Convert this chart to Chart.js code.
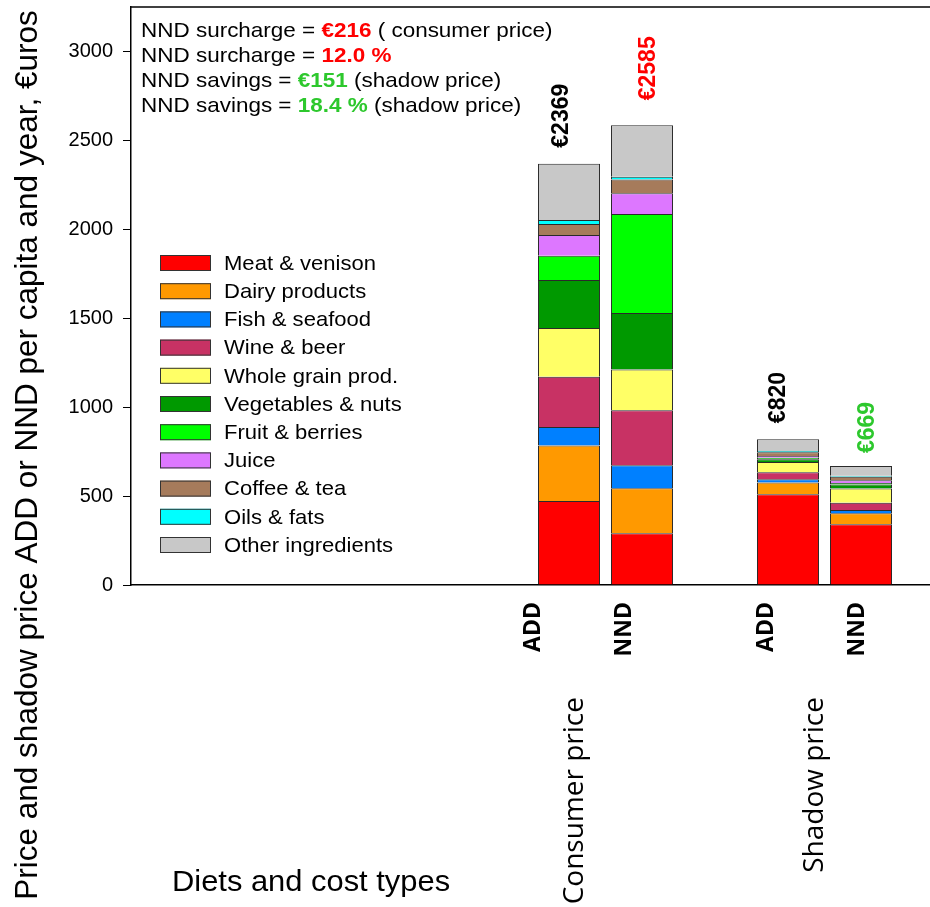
<!DOCTYPE html>
<html><head><meta charset="utf-8">
<script src="https://cdn.jsdelivr.net/npm/chart.js@4.4.1/dist/chart.umd.min.js"></script>
<style>html,body{margin:0;padding:0;background:#fff;overflow:hidden;width:930px;height:907px;}</style>
</head><body>
<canvas id="c" width="934" height="907"></canvas>
<script>
// ---- data ----
const xLabels = ['', '', '', '', '', '', 'ADD', 'NND', '', 'ADD', 'NND', ''];
const groupLabels = ['Consumer price', 'Shadow price'];
const seriesNames = ['Meat & venison', 'Dairy products', 'Fish & seafood', 'Wine & beer', 'Whole grain prod.', 'Vegetables & nuts', 'Fruit & berries', 'Juice', 'Coffee & tea', 'Oils & fats', 'Other ingredients'];
const meat   = [null, null, null, null, null, null, 473, 291, null, 510, 342, null];
const dairy  = [null, null, null, null, null, null, 311, 253, null, 66, 61, null];
const fish   = [null, null, null, null, null, null, 105, 130, null, 19, 19, null];
const wine   = [null, null, null, null, null, null, 282, 309, null, 39, 41, null];
const grain  = [null, null, null, null, null, null, 274, 229, null, 57, 79, null];
const veg    = [null, null, null, null, null, null, 270, 317, null, 16, 23, null];
const fruit  = [null, null, null, null, null, null, 137, 557, null, 8, 9, null];
const juice  = [null, null, null, null, null, null, 116, 117, null, 11, 15, null];
const coffee = [null, null, null, null, null, null, 62, 77, null, 21, 19, null];
const oils   = [null, null, null, null, null, null, 23, 16, null, 7, 6, null];
const other  = [null, null, null, null, null, null, 316, 289, null, 66, 55, null];
const yTicks = [0, 500, 1000, 1500, 2000, 2500, 3000];
const notes = [
  [['NND surcharge = ', 0], ['€216', 1], [' ( consumer price)', 0]],
  [['NND surcharge = ', 0], ['12.0 %', 1]],
  [['NND savings = ', 0], ['€151', 2], [' (shadow price)', 0]],
  [['NND savings = ', 0], ['18.4 %', 2], [' (shadow price)', 0]]
];

// ---- styles ----
const colors = ['#FF0000', '#FF9900', '#0080FF', '#C83264', '#FFFF66', '#009900', '#00FF00', '#DD77FF', '#A67B5B', '#00FFFF', '#C8C8C8'];
const GREEN = '#2DC82D';
const ARIAL = '"Liberation Sans", Arial, sans-serif';
const CALIBRI = '"Open Sans", "Noto Sans", sans-serif';
const seriesData = [meat, dairy, fish, wine, grain, veg, fruit, juice, coffee, oils, other];

function wideText(ctx, t, x, y, sx) {
  ctx.save(); ctx.translate(x, y); ctx.scale(sx, 1); ctx.fillText(t, 0, 0); ctx.restore();
  return ctx.measureText(t).width * sx;
}

const decor = {
  id: 'decor',
  afterDraw(chart) {
    const ctx = chart.ctx, ca = chart.chartArea;
    const xs = chart.scales.x, ys = chart.scales.y;
    ctx.save();
    // top frame line
    ctx.strokeStyle = '#000'; ctx.lineWidth = 1.5;
    ctx.beginPath(); ctx.moveTo(ca.left, ca.top); ctx.lineTo(chart.width, ca.top); ctx.stroke();

    // totals above bars
    const totColors = {6: '#000', 7: '#FF0000', 9: '#000', 10: GREEN};
    const nudgeX = {6: -7, 7: 7, 9: -9, 10: 7};
    const gapY = {6: 16, 7: 25, 9: 16, 10: 13};
    ctx.font = 'bold 23px ' + ARIAL;
    ctx.textBaseline = 'middle'; ctx.textAlign = 'left';
    xLabels.forEach((lab, i) => {
      if (!lab) return;
      let sum = 0; seriesData.forEach(s => sum += (s[i] || 0));
      const x = xs.getPixelForValue(i) + nudgeX[i];
      const y = ys.getPixelForValue(sum) - gapY[i];
      ctx.save(); ctx.translate(x, y); ctx.rotate(-Math.PI / 2);
      ctx.fillStyle = totColors[i];
      ctx.fillText('€' + Math.round(sum), 0, 0);
      ctx.restore();
    });

    // notes at top-left
    const noteCols = ['#000', '#FF0000', GREEN];
    notes.forEach((line, r) => {
      let x = 141; const y = 31 + r * 25;
      ctx.textAlign = 'left'; ctx.textBaseline = 'middle';
      line.forEach(([t, c]) => {
        ctx.font = (c ? 'bold ' : '') + '21px ' + ARIAL;
        ctx.fillStyle = noteCols[c];
        x += wideText(ctx, t, x, y, 1.07);
      });
    });

    // legend
    ctx.font = '21px ' + ARIAL;
    seriesNames.forEach((n, i) => {
      const y = 263 + i * 28.2;
      ctx.fillStyle = colors[i];
      ctx.fillRect(160, y - 8, 51, 16);
      ctx.strokeStyle = '#333'; ctx.lineWidth = 1;
      ctx.strokeRect(160.5, y - 7.5, 50, 15);
      ctx.fillStyle = '#000'; ctx.textAlign = 'left'; ctx.textBaseline = 'middle';
      wideText(ctx, n, 224, y + 1, 1.05);
    });

    // x tick labels (rotated, bold)
    const labNudge = {6: -36, 7: -18, 9: -22, 10: -4};
    ctx.font = 'bold 23px ' + CALIBRI;
    ctx.fillStyle = '#000';
    xLabels.forEach((lab, i) => {
      if (!lab) return;
      const x = xs.getPixelForValue(i) + labNudge[i];
      ctx.save(); ctx.translate(x, 602); ctx.rotate(-Math.PI / 2);
      ctx.textAlign = 'right'; ctx.textBaseline = 'middle';
      ctx.fillText(lab, 0, 0);
      ctx.restore();
    });

    // group labels
    ctx.font = '28px ' + CALIBRI;
    [[groupLabels[0], 575], [groupLabels[1], 815]].forEach(([t, x]) => {
      ctx.save(); ctx.translate(x, 697); ctx.rotate(-Math.PI / 2);
      ctx.textAlign = 'right'; ctx.textBaseline = 'middle';
      ctx.fillText(t, 0, 0);
      ctx.restore();
    });

    // x axis title
    ctx.font = '29px ' + ARIAL;
    ctx.textAlign = 'left'; ctx.textBaseline = 'alphabetic';
    wideText(ctx, 'Diets and cost types', 172, 891, 1.065);

    // y axis title
    ctx.save(); ctx.translate(28, 455); ctx.rotate(-Math.PI / 2);
    ctx.font = '31.5px ' + ARIAL; ctx.textAlign = 'center'; ctx.textBaseline = 'middle';
    ctx.fillText('Price and shadow price ADD or NND per capita and year, €uros', 0, 0);
    ctx.restore();

    ctx.restore();
  }
};

new Chart(document.getElementById('c'), {
  type: 'bar',
  data: {
    labels: xLabels,
    datasets: seriesNames.map((n, i) => ({
      label: n, data: seriesData[i], backgroundColor: colors[i],
      borderColor: '#2a2a2a', borderWidth: 1,
      categoryPercentage: 1, barPercentage: 0.85
    }))
  },
  options: {
    responsive: false, animation: false, devicePixelRatio: 1,
    layout: { padding: { top: 7, left: 0, right: 0, bottom: 0 } },
    plugins: { legend: { display: false }, tooltip: { enabled: false }, title: { display: false } },
    scales: {
      x: {
        stacked: true, offset: false,
        grid: { display: false },
        border: { display: true, color: '#000', width: 1.5 },
        ticks: { display: false, autoSkip: false },
        afterFit(s) { s.height = 322; s.paddingLeft = 0; s.paddingRight = 0; }
      },
      y: {
        stacked: true, min: 0, max: 3250,
        grid: { display: true, drawOnChartArea: false, drawTicks: true, tickLength: 8, color: '#000', tickWidth: 1 },
        border: { display: true, color: '#000', width: 1.5 },
        ticks: { color: '#000', font: { family: ARIAL, size: 20 }, padding: 10, callback: v => String(v) },
        afterBuildTicks(s) { s.ticks = yTicks.map(v => ({ value: v })); },
        afterFit(s) { s.width = 131; s.paddingTop = 0; s.paddingBottom = 0; }
      }
    }
  },
  plugins: [decor]
});
</script>
</body></html>
